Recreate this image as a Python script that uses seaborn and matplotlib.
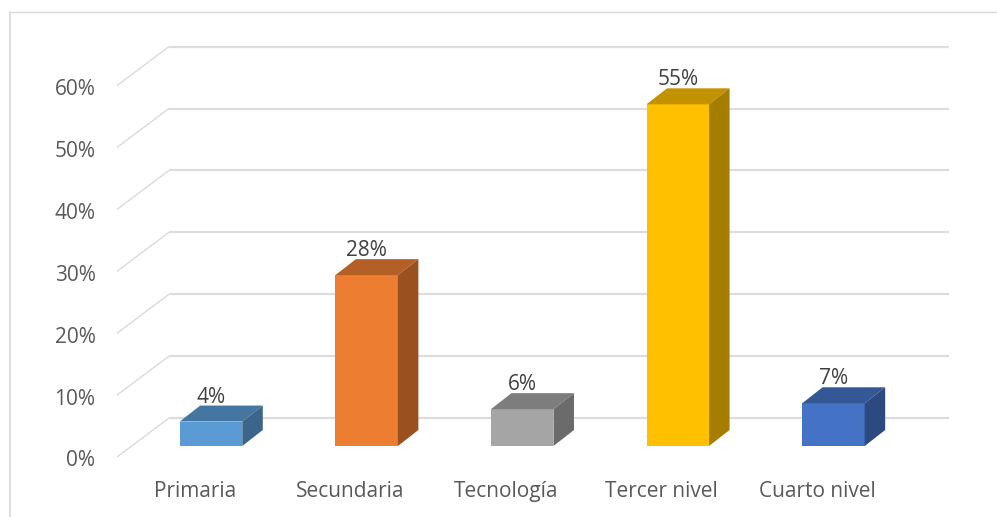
import matplotlib
matplotlib.use("Agg")
import matplotlib.pyplot as plt
from matplotlib.colors import to_rgb
from matplotlib.lines import Line2D
from matplotlib.patches import Polygon
from matplotlib.transforms import ScaledTranslation
import pandas as pd
import seaborn as sns

categories = ["Primaria", "Secundaria", "Tecnología", "Tercer nivel", "Cuarto nivel"]
values = [3.95, 27.6, 5.95, 55.2, 6.9]
colors = ["#5B9BD5", "#ED7D31", "#A5A5A5", "#FFC000", "#4472C4"]
y_ticks = [0, 10, 20, 30, 40, 50, 60]
y_tick_labels = ["0%", "10%", "20%", "30%", "40%", "50%", "60%"]

W, H, DPI = 997, 517, 100
PX_X = 155.6        # pixels per category
PX_Y = 6.19         # pixels per percent
X0_PX, Y0_PX = 211, 446   # where category 0 / value 0 fall on the bar-front plane
LEFT, RIGHT, BOTTOM, TOP = 117, 949, 457, 40  # axes box in pixels
GRID = "#DDDDDD"
TEXT = "#595959"
FONT = "Open Sans"

sns.set_theme(style="white")
plt.rcParams["font.family"] = [FONT, "DejaVu Sans"]

fig = plt.figure(figsize=(W / DPI, H / DPI), dpi=DPI, facecolor="white")
ax = fig.add_axes([LEFT / W, 1 - BOTTOM / H, (RIGHT - LEFT) / W, (BOTTOM - TOP) / H])
ax.patch.set_alpha(0)

df = pd.DataFrame({"categoria": categories, "valor": values})
sns.barplot(data=df, x="categoria", y="valor", hue="categoria", palette=colors,
            width=0.402, legend=False, ax=ax, saturation=1, zorder=3, linewidth=0)

ax.set_xlim((LEFT - X0_PX) / PX_X, (RIGHT - X0_PX) / PX_X)
ax.set_ylim((Y0_PX - BOTTOM) / PX_Y, (Y0_PX - TOP) / PX_Y)
ax.set_xlabel("")
ax.set_ylabel("")
for s in ax.spines.values():
    s.set_visible(False)


def dx(px):
    return px / PX_X


def dy(px):
    return px / PX_Y


# Wall and floor: each level runs from the front edge back, then along the back wall
wall_left = dx(52)
wall_rise = dy(39)
front_drop = dy(11)
x_front, x_end = ax.get_xlim()
for v in y_ticks:
    yf = v - front_drop
    ax.plot([x_front, x_front + wall_left], [yf, yf + wall_rise], color=GRID, lw=1.1,
            clip_on=False, zorder=1, solid_capstyle="butt")
    ax.plot([x_front + wall_left, x_end], [yf + wall_rise] * 2, color=GRID, lw=1.6,
            clip_on=False, zorder=1, solid_capstyle="butt")

# Extruded side and top faces of each bar
depth_x, depth_y = dx(20.5), dy(16)
bars = [p for c in ax.containers for p in c]
for bar, col in zip(bars, colors):
    x0, w, h = bar.get_x(), bar.get_width(), bar.get_height()
    x1 = x0 + w
    rgb = to_rgb(col)
    top = tuple(c * 0.76 for c in rgb)
    side = tuple(c * 0.65 for c in rgb)
    ax.add_patch(Polygon([(x0, h), (x1, h), (x1 + depth_x, h + depth_y), (x0 + depth_x, h + depth_y)],
                         closed=True, fc=top, ec="none", zorder=3, clip_on=False))
    ax.add_patch(Polygon([(x1, 0), (x1 + depth_x, depth_y), (x1 + depth_x, h + depth_y), (x1, h)],
                         closed=True, fc=side, ec="none", zorder=3, clip_on=False))

# Value labels above the top face
for cont, v in zip(ax.containers, values):
    ax.bar_label(cont, labels=[f"{v:.0f}%"], padding=10, fontsize=15, color="#404040", zorder=5)

# Tick labels
ax.set_yticks(y_ticks, y_tick_labels)
ax.tick_params(axis="y", length=0, pad=15.5, labelsize=15, labelcolor=TEXT)
ax.tick_params(axis="x", length=0, pad=17.5, labelsize=15, labelcolor=TEXT)
y_shift = ScaledTranslation(0, -12.5 / DPI, fig.dpi_scale_trans)
x_shift = ScaledTranslation(-16 / DPI, 0, fig.dpi_scale_trans)
for t in ax.get_yticklabels():
    t.set_transform(t.get_transform() + y_shift)
for t in ax.get_xticklabels():
    t.set_transform(t.get_transform() + x_shift)

# Outer frame: top and left edges only
fig.add_artist(Line2D([9 / W, 1], [1 - 11.5 / H] * 2, color="#D9D9D9", lw=1.0, transform=fig.transFigure))
fig.add_artist(Line2D([9.5 / W] * 2, [0, 1 - 11.5 / H], color="#D9D9D9", lw=1.2, transform=fig.transFigure))

fig.savefig("out.png", dpi=DPI, facecolor="white")
